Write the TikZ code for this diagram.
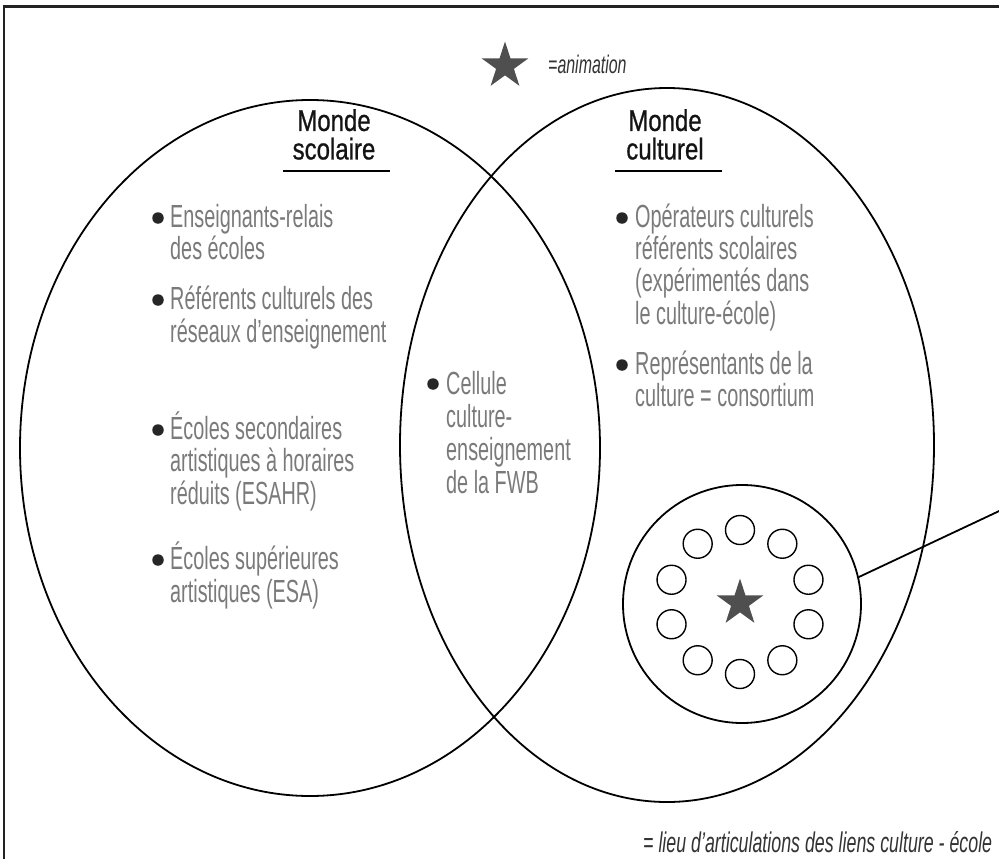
\documentclass[tikz,border=0pt]{standalone}
\usepackage{fontspec}
\setmainfont{Liberation Sans}
\newfontfamily\bodyfont[FakeStretch=0.62]{Liberation Sans}
\newfontfamily\titlefont[FakeStretch=0.8,FakeBold=0.8]{Liberation Sans}
\newfontfamily\notefont[FakeStretch=0.625]{Liberation Sans}
\usetikzlibrary{shapes.geometric}
\definecolor{txtgray}{HTML}{7A7A7A}
\definecolor{stargray}{HTML}{4F4F4F}
\definecolor{framegray}{HTML}{222222}
\begin{document}
\begin{tikzpicture}[x=1pt,y=-1pt,
  item/.style={anchor=base west, inner sep=0pt, font=\bodyfont\fontsize{32}{32}\selectfont, text=txtgray},
  dot/.style={circle, fill=black!85, inner sep=0pt, minimum size=11.5pt},
  ttl/.style={anchor=north, inner sep=0pt, align=center, font=\titlefont\fontsize{30}{28.5}\selectfont, text=black!92},
  note/.style={anchor=base west, inner sep=0pt, text=black!80},
  world/.style={ellipse, draw, line width=1.8pt, inner sep=0pt},
  ring/.style={circle, draw, line width=1.4pt, inner sep=0pt, minimum size=29pt},
  starmark/.style={star, star points=5, star point ratio=2.618, inner sep=0pt, minimum size=49pt, fill=stargray},
  rule/.style={line width=1.8pt}]
\useasboundingbox (0,0) rectangle (999,859);
% frame (cropped at right and bottom)
\draw[line width=2.6pt, framegray] (4,6.5) rectangle (1030,890);
% legend
\node[starmark] (anim) at (505,66) {};
\node[note, font=\notefont\itshape\fontsize{25.5}{25.5}\selectfont] (animtxt) at (548,74) {=animation};
% worlds
\node[world, minimum width=580pt, minimum height=696pt] (scol) at (310,448) {};
\node[world, minimum width=534pt, minimum height=714pt] (cult) at (667,445) {};
% titles
\node[ttl] (t1) at (334,109) {Monde\\scolaire};
\coordinate (u1a) at (283,171); \coordinate (u1b) at (390,171);
\draw[rule] (u1a) -- (u1b);
\node[ttl] (t2) at (665,109) {Monde\\culturel};
\coordinate (u2a) at (615,171); \coordinate (u2b) at (722,171);
\draw[rule] (u2a) -- (u2b);
% left items
\node[dot] (dl1) at (158,218) {};
\node[item] (l1a) at (170,227) {Enseignants-relais};
\node[item] (l1b) at (170,259) {des écoles};
\node[dot] (dl2) at (158,300) {};
\node[item] (l2a) at (170,309) {Référents culturels des};
\node[item] (l2b) at (170,342) {réseaux d’enseignement};
\node[dot] (dl3) at (158,430) {};
\node[item] (l3a) at (170,439) {Écoles secondaires};
\node[item] (l3b) at (170,471) {artistiques à horaires};
\node[item] (l3c) at (170,504) {réduits (ESAHR)};
\node[dot] (dl4) at (158,560) {};
\node[item] (l4a) at (170,569) {Écoles supérieures};
\node[item] (l4b) at (170,602) {artistiques (ESA)};
% middle item
\node[dot] (dm1) at (433,384) {};
\node[item] (m1a) at (446,394) {Cellule};
\node[item] (m1b) at (446,427) {culture-};
\node[item] (m1c) at (446,460) {enseignement};
\node[item] (m1d) at (446,493) {de la FWB};
% right items
\node[dot] (dr1) at (622,218) {};
\node[item] (r1a) at (635,227) {Opérateurs culturels};
\node[item] (r1b) at (635,259) {référents scolaires};
\node[item] (r1c) at (635,291) {(expérimentés dans};
\node[item] (r1d) at (635,324) {le culture-école)};
\node[dot] (dr2) at (622,365) {};
\node[item] (r2a) at (635,374) {Représentants de la};
\node[item] (r2b) at (635,406) {culture = consortium};
% consortium circle
\node[circle, draw, line width=1.8pt, inner sep=0pt, minimum size=238pt] (cons) at (742,604) {};
\node[starmark] (cstar) at (740,603) {};
\foreach \a [count=\i] in {90,126,162,198,234,270,306,342,18,54}
  \node[ring] (o\i) at ({740+72*cos(\a)},{602-72*sin(\a)}) {};
\coordinate (exit) at (1012,505);
\draw[line width=1.8pt] (cons.13) -- (exit);
% bottom note
\node[note, font=\notefont\itshape\fontsize{28.5}{28.5}\selectfont] (lieu) at (643,852) {= lieu d’articulations des liens culture - école};
\end{tikzpicture}
\end{document}
